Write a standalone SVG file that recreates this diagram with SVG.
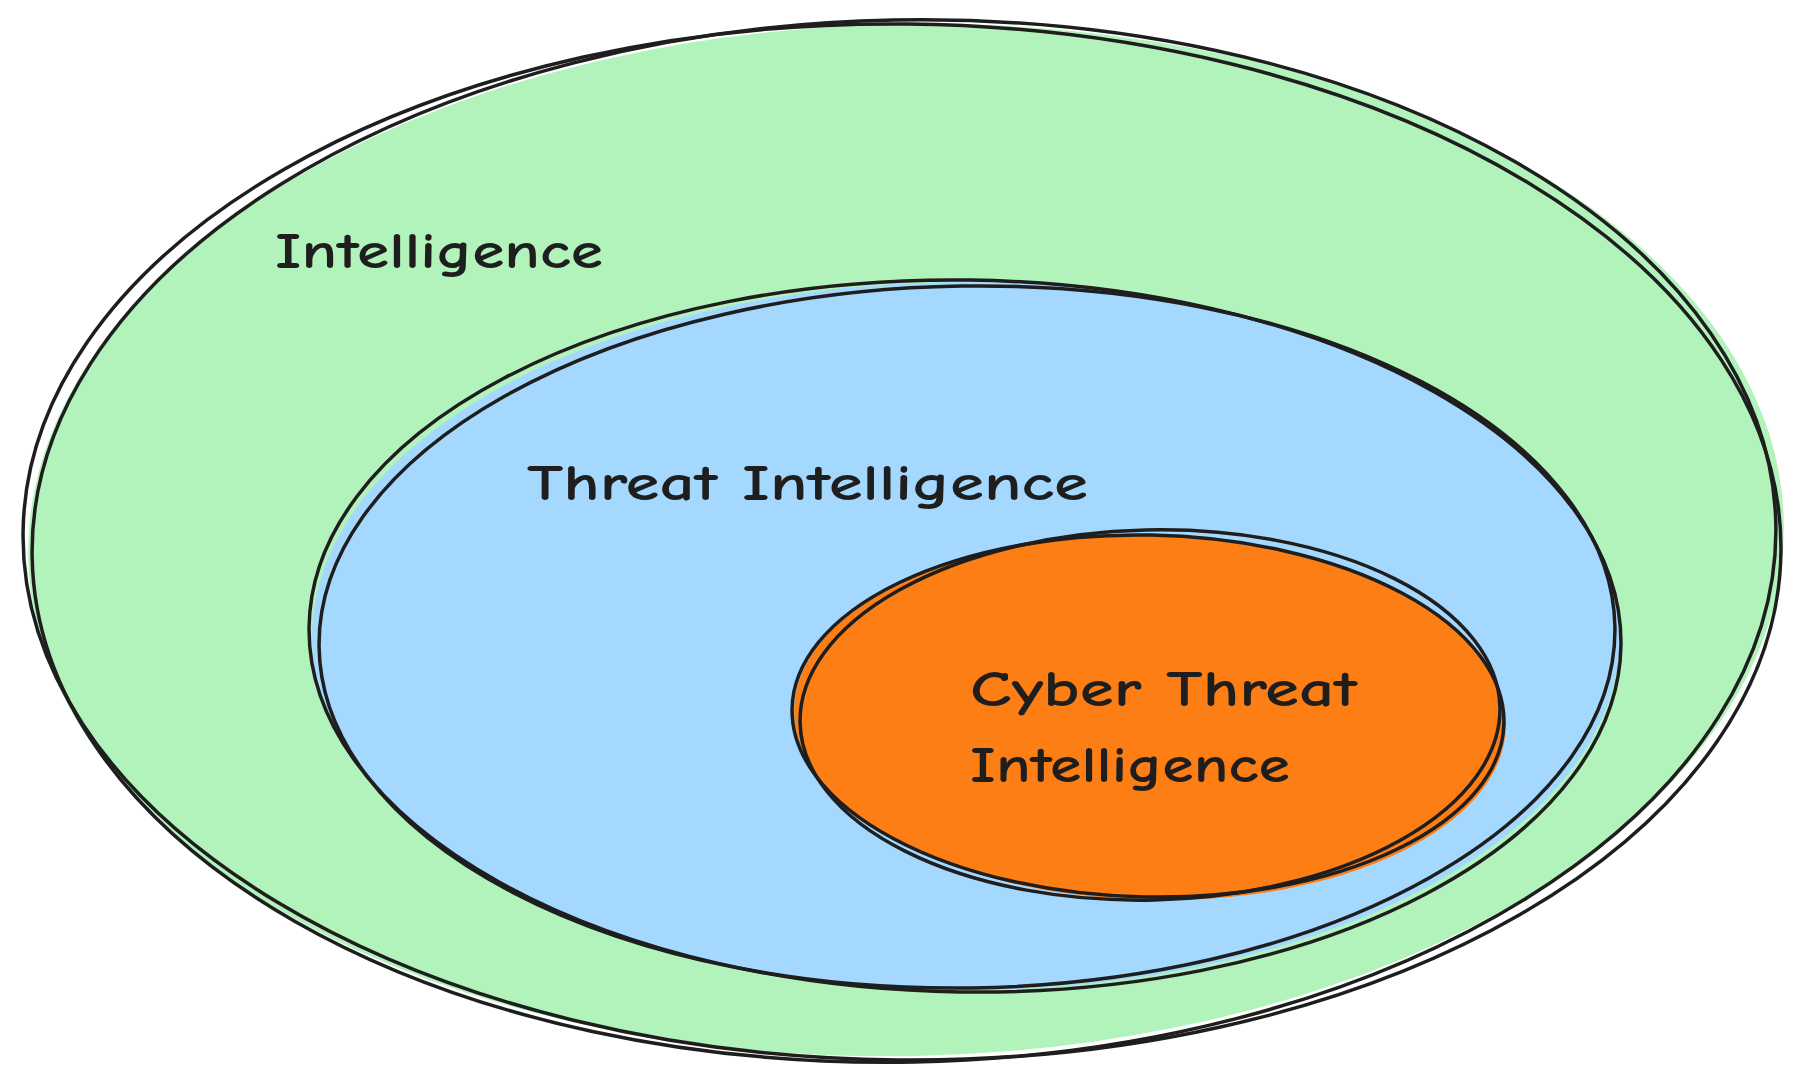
<svg xmlns="http://www.w3.org/2000/svg" width="1809" height="1085" viewBox="0 0 1809 1085">
<style>
.s{fill:none;stroke:#1e1e1e;stroke-width:3.5;stroke-linecap:round}
.t{font-family:"Comic Neue","Liberation Sans",sans-serif;font-size:50px;font-weight:700;fill:#1e1e1e}
</style>
<rect width="1809" height="1085" fill="#ffffff"/>
<g id="intelligence">
<ellipse cx="906" cy="540" rx="878" ry="516" fill="#b2f2bb" transform="rotate(-1.2 906 540)"/>
<ellipse class="s" cx="902" cy="542" rx="879" ry="518" transform="rotate(0.6 902 542)"/>
<ellipse class="s" cx="904" cy="541" rx="872" ry="521" transform="rotate(-1.1 904 541)"/>
<text class="t" x="275" y="268" textLength="328" lengthAdjust="spacingAndGlyphs">Intelligence</text>
</g>
<g id="threat-intelligence">
<ellipse cx="966" cy="636" rx="654" ry="354" fill="#a5d8ff"/>
<ellipse class="s" cx="965" cy="636" rx="656" ry="356" transform="rotate(0.8 965 636)"/>
<ellipse class="s" cx="967" cy="637" rx="648" ry="351" transform="rotate(-0.9 967 637)"/>
<text class="t" x="527" y="500" textLength="561" lengthAdjust="spacingAndGlyphs">Threat Intelligence</text>
</g>
<g id="cyber-threat-intelligence">
<ellipse cx="1150" cy="718" rx="356" ry="182" fill="#fd7e14" transform="rotate(1.5 1150 718)"/>
<ellipse class="s" cx="1148" cy="716" rx="356" ry="181" transform="rotate(1.2 1148 716)"/>
<ellipse class="s" cx="1150" cy="715" rx="350" ry="185" transform="rotate(-1.3 1150 715)"/>
<text class="t" x="970" y="706" textLength="387" lengthAdjust="spacingAndGlyphs">Cyber Threat</text>
<text class="t" x="970" y="782" textLength="320" lengthAdjust="spacingAndGlyphs">Intelligence</text>
</g>
<g id="connectors"/>
</svg>
